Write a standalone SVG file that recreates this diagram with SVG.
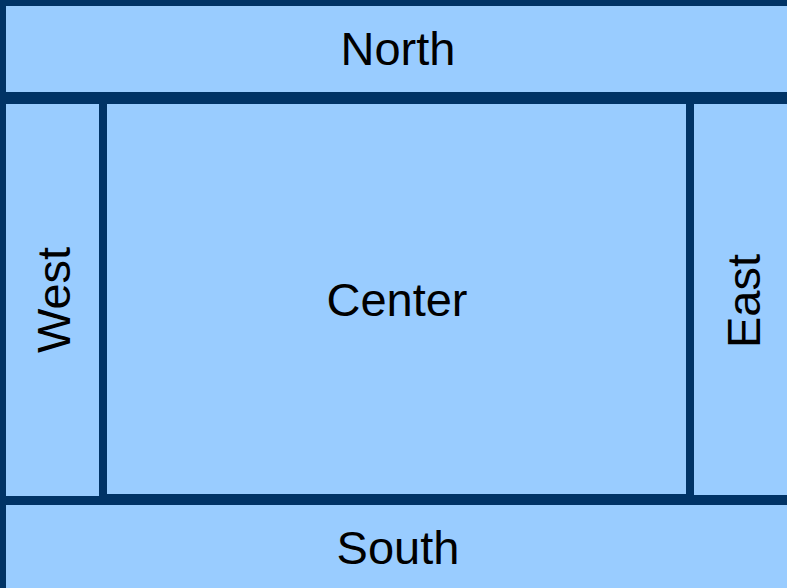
<svg xmlns="http://www.w3.org/2000/svg" width="787" height="588" viewBox="0 0 787 588">
<style>
.p{fill:#99ccff}
.t{font-family:"Liberation Sans",Arial,sans-serif;font-size:47px;fill:#000;text-anchor:middle}
</style>
<rect x="0" y="0" width="787" height="588" fill="#003366"/>
<g id="north"><rect class="p" x="6" y="6" width="781" height="86"/><text class="t" x="398" y="65">North</text></g>
<g id="west"><rect class="p" x="6" y="104" width="93" height="392"/><text class="t" transform="translate(70,300) rotate(-90)">West</text></g>
<g id="center"><rect class="p" x="107" y="104" width="579" height="390"/><text class="t" x="397" y="316">Center</text></g>
<g id="east"><rect class="p" x="694" y="104" width="93" height="391"/><text class="t" transform="translate(760,301) rotate(-90)">East</text></g>
<g id="south"><rect class="p" x="6" y="505" width="781" height="83"/><text class="t" x="398" y="564">South</text></g>
<g id="connectors"/>
</svg>
